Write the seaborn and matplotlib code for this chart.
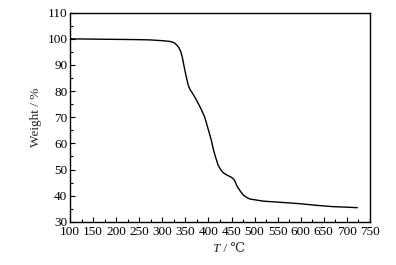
import numpy as np
import pandas as pd
import matplotlib
matplotlib.use("Agg")
import matplotlib.pyplot as plt
from matplotlib.ticker import MultipleLocator
import seaborn as sns

# TGA curve
temperature = [100, 150, 200, 250, 273, 300, 317, 325, 331, 336, 340, 343, 346, 351, 356, 360,
               364, 374, 385, 392, 400, 406, 411, 416, 421, 427, 432, 440, 450, 455, 458, 461,
               465, 470, 476, 483, 490, 505, 519, 545, 569, 600, 634, 670, 700, 723]
weight = [100.0, 99.9, 99.8, 99.7, 99.6, 99.3, 99.0, 98.6, 97.7, 96.6, 95.1, 93.3, 90.5, 86.2, 82.4, 80.6,
          79.6, 76.6, 72.8, 70.0, 65.1, 61.4, 57.5, 54.4, 51.7, 49.8, 48.8, 47.9, 47.0, 46.3, 45.3, 44.0,
          42.8, 41.5, 40.2, 39.3, 38.7, 38.3, 37.9, 37.6, 37.3, 36.9, 36.3, 35.8, 35.6, 35.4]

df = pd.DataFrame({"T": temperature, "weight": weight})

sns.set_style("ticks")
plt.rcParams["font.family"] = ["Liberation Serif", "DejaVu Serif"]
plt.rcParams["font.size"] = 9.5

fig = plt.figure(figsize=(3.96, 2.65), dpi=100)
ax = fig.add_axes([0.177, 0.163, 0.757, 0.789])

sns.lineplot(data=df, x="T", y="weight", color="black", linewidth=1.0, ax=ax)

ax.set_xlim(100, 750)
ax.set_ylim(30, 110)
ax.xaxis.set_major_locator(MultipleLocator(50))
ax.xaxis.set_minor_locator(MultipleLocator(25))
ax.yaxis.set_major_locator(MultipleLocator(10))
ax.yaxis.set_minor_locator(MultipleLocator(5))
ax.tick_params(which="both", direction="in", top=False, right=False, colors="black", labelsize=9.5)
ax.tick_params(axis="x", pad=3)
ax.tick_params(axis="y", pad=2)
ax.tick_params(which="major", length=3.5, width=0.8)
ax.tick_params(which="minor", length=2, width=0.8)
for s in ax.spines.values():
    s.set_visible(True)
    s.set_linewidth(1.0)
    s.set_color("black")

ax.set_ylabel("Weight / %", fontsize=9.5, labelpad=4)
ax.set_xlabel("")
# x label with italic T
fig.text(0.555, 0.05, "T", fontsize=9.5, style="italic", ha="right", va="baseline")
fig.text(0.555, 0.05, " / ℃", fontsize=9.5, ha="left", va="baseline",
         family=["Liberation Serif", "DejaVu Serif", "Noto Sans CJK SC"])

fig.savefig("out.png", dpi=100)
